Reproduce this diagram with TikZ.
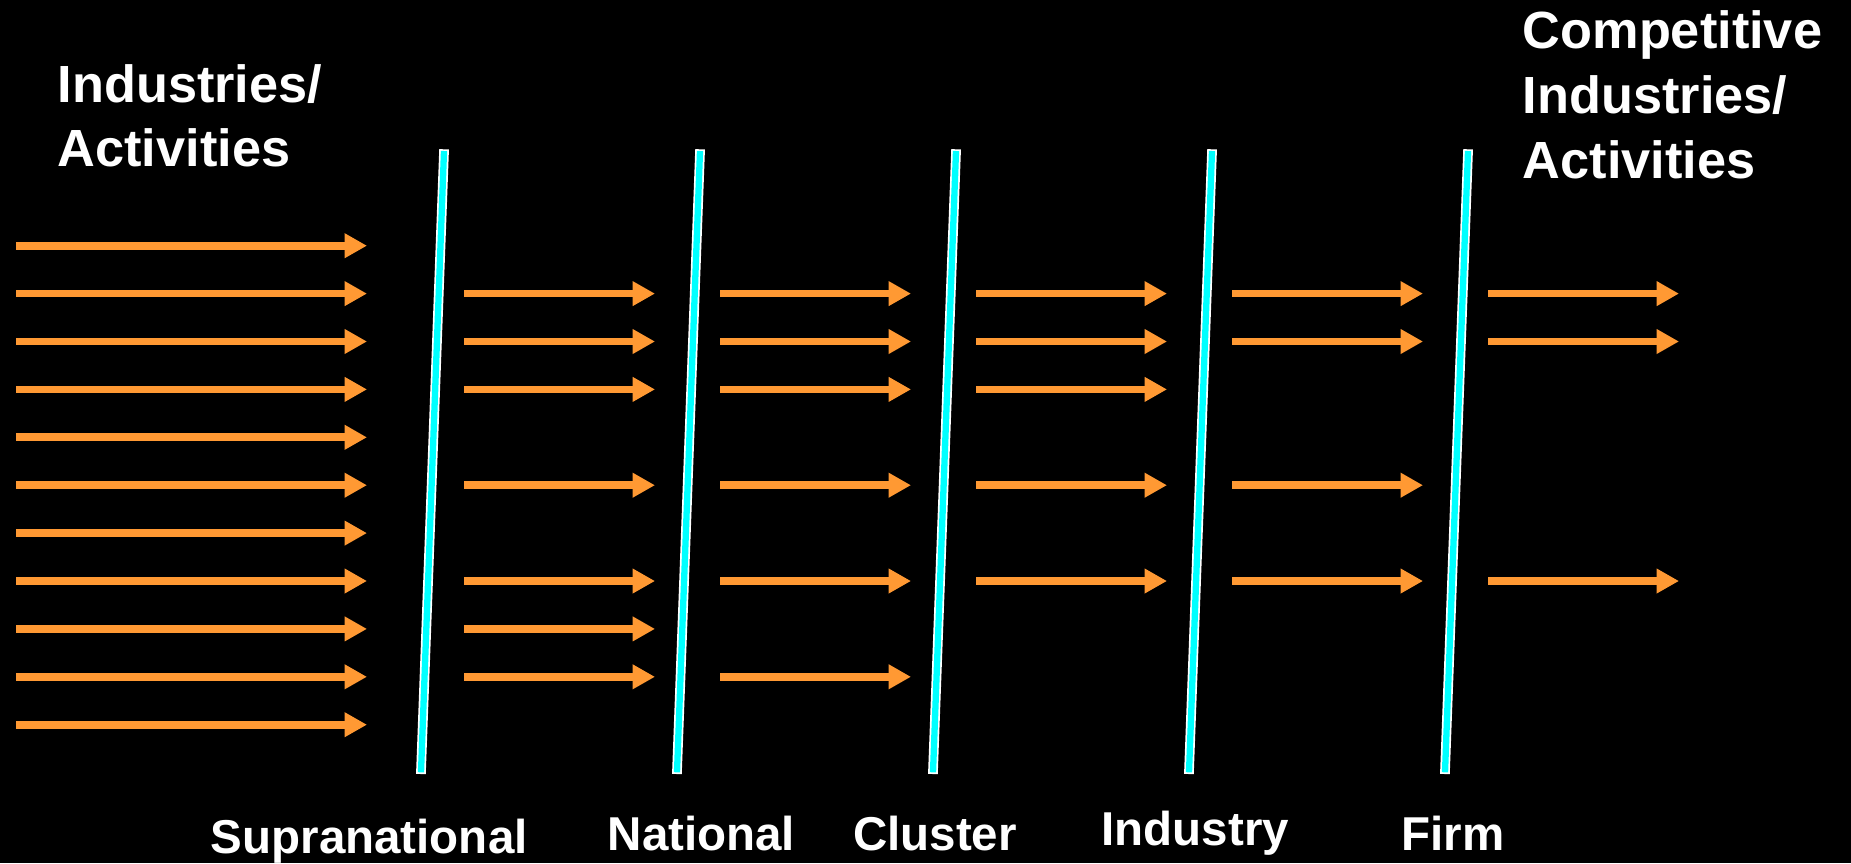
\documentclass[tikz,border=0pt]{standalone}
\usepackage{fontspec}
\setmainfont{Liberation Sans}
\usetikzlibrary{arrows.meta}
\definecolor{arrorange}{RGB}{255,153,51}
\definecolor{barcyan}{RGB}{0,255,255}
\begin{document}
\begin{tikzpicture}[x=1pt,y=-1pt,
  flow/.style={draw=arrorange, line width=7.7pt, -{Triangle[length=22.4pt,width=23.4pt]}},
  barout/.style={draw=white, line width=9.7pt},
  barin/.style={draw=barcyan, line width=6.3pt},
  title/.style={text=white, font=\fontsize{52.3}{64.7}\selectfont\bfseries, inner sep=0pt, align=left, anchor=base west},
  level/.style={text=white, font=\fontsize{47.5}{57}\selectfont\bfseries, inner sep=0pt, anchor=base west}
]
\fill[black] (0,0) rectangle (1851,863);
\useasboundingbox (0,0) rectangle (1851,863);

% first column: all eleven rows
\foreach \k in {0,...,10}
  \draw[flow] (16,245.7+47.9*\k) -- (367,245.7+47.9*\k);

% later columns
\foreach \c/\rows in {1/{1,2,3,5,7,8,9}, 2/{1,2,3,5,7,9}, 3/{1,2,3,5,7}, 4/{1,2,5,7}, 5/{1,2,7}} {
  \foreach \k in \rows
    \draw[flow] (464+256*\c-256,245.7+47.9*\k) -- (655+256*\c-256,245.7+47.9*\k);
}

% slanted bars
\foreach \b in {0,...,4} {
  \draw[barout] (444.1+256*\b,149.3) -- (420.9+256*\b,774);
  \draw[barin]  (444.0+256*\b,151.0) -- (421.0+256*\b,772.3);
}

\node[title] (src) at (57.5,166.7) {Industries/\\Activities};
\node[title] (dst) at (1522.6,178.3) {Competitive\\Industries/\\Activities};

\node[level] (l1) at (210.7,853.3) {Supranational};
\node[level] (l2) at (607.5,850) {National};
\node[level] (l3) at (853,850.5) {Cluster};
\node[level] (l4) at (1101.5,845) {Industry};
\node[level] (l5) at (1401.5,850) {Firm};
\end{tikzpicture}
\end{document}
